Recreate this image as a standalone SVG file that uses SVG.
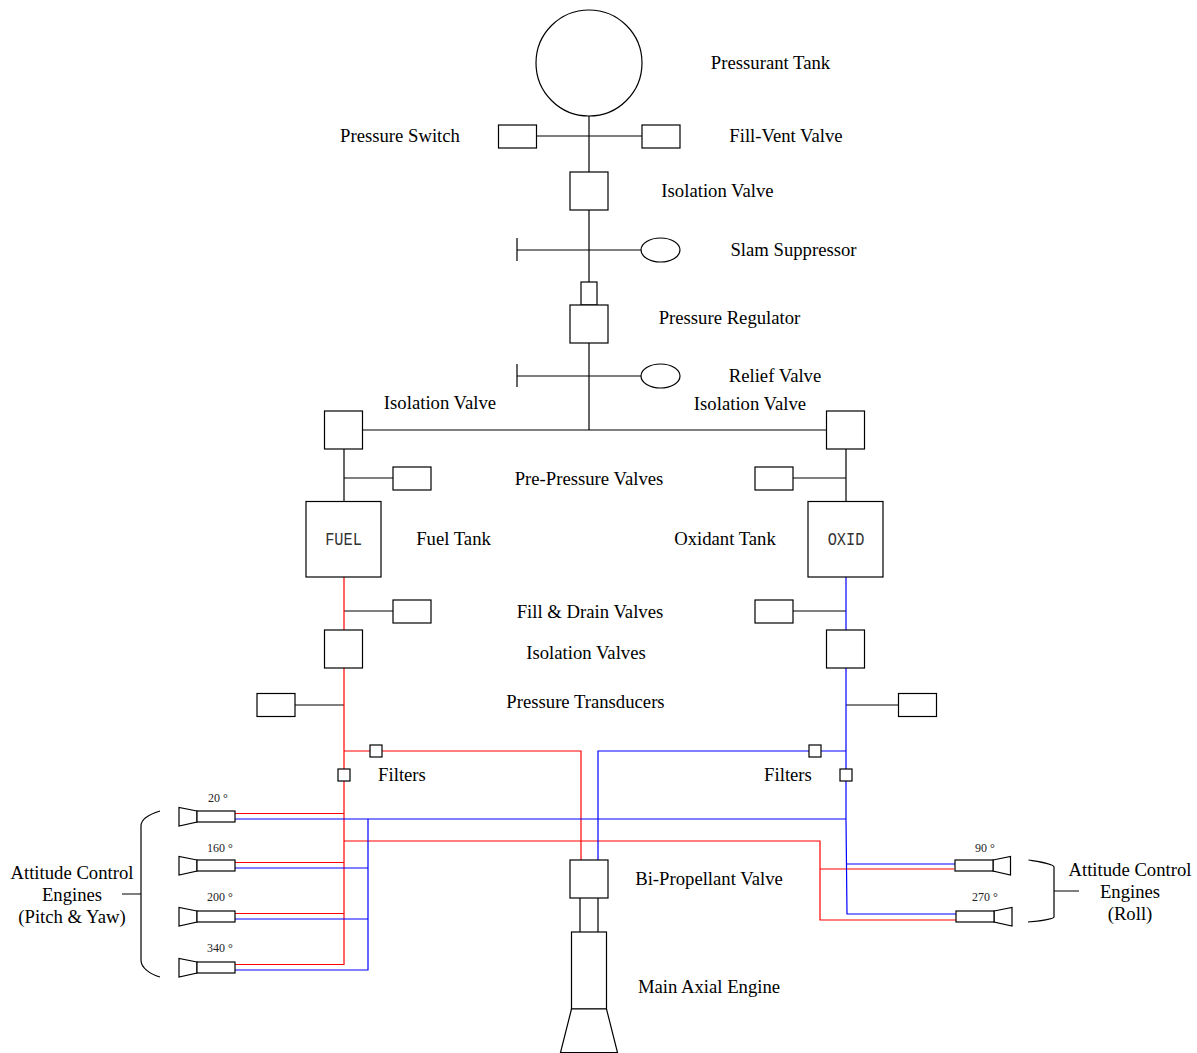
<svg xmlns="http://www.w3.org/2000/svg" width="1197" height="1053" viewBox="0 0 1197 1053">
<style>
rect,circle,ellipse,.s{fill:#fff;stroke:#000;stroke-width:1.2}
.l{fill:none;stroke:#000;stroke-width:1.2}
.r{fill:none;stroke:#f00;stroke-width:1.2}
.b{fill:none;stroke:#00f;stroke-width:1.2}
text{font-family:"Liberation Serif","Times New Roman",serif;font-size:18.7px;fill:#000;text-anchor:middle}
.a{font-size:12px;fill:#222}
.m{font-family:"Liberation Mono",monospace;font-size:18px;fill:#333}
</style>
<g id="connectors">
<path class="l" d="M589 116V282M536 136H642M517 238V261M517 250H642M589 343V430M517 364V387M517 376H642M362 430H827M344 448V501M344 478H393M846 448V501M793 478H846M344 611H393M793 611H846M295 705H344M846 705H898M580 898V932M598 898V932M122 894H141M1054 891H1079"/>
<path class="r" d="M344 577V630M344 667V964.500H235M344 751H581V860M344 841H820V920H956M820 869H954M235 813.500H344M235 862.500H344M235 913.500H344"/>
<path class="b" d="M846 577V630M846 667V819H235M846 819L847 914H956M846 864H955M846 751H598V860M235 868H368M235 919H368M235 970H368V819"/>
<path class="l" d="M160 811C150 814 141 819 141 826V960C141 968 150 974 160 977"/>
<path class="l" d="M1028.500 860C1040 862 1054 864 1054 867V917C1054 919 1040 921 1028 922"/>
</g>
<g id="pressurant-tank"><circle cx="589" cy="63" r="53"/><text x="770.500" y="69">Pressurant Tank</text></g>
<g id="pressure-switch"><rect x="498.500" y="125" width="38" height="23"/><text x="400" y="142">Pressure Switch</text></g>
<g id="fill-vent-valve"><rect x="642" y="125" width="38" height="23"/><text x="786" y="142">Fill-Vent Valve</text></g>
<g id="isolation-valve-top"><rect x="570" y="172" width="38" height="38"/><text x="717.500" y="197">Isolation Valve</text></g>
<g id="slam-suppressor"><ellipse cx="660.500" cy="250" rx="19.500" ry="12"/><text x="793.500" y="256">Slam Suppressor</text></g>
<g id="pressure-regulator"><rect x="581" y="282" width="16" height="23"/><rect x="570" y="305" width="38" height="38"/><text x="729.500" y="324">Pressure Regulator</text></g>
<g id="relief-valve"><ellipse cx="660.500" cy="376" rx="19.500" ry="12"/><text x="775" y="382">Relief Valve</text></g>
<g id="isolation-valve-left"><rect x="324.500" y="411" width="38" height="38"/><text x="440" y="409">Isolation Valve</text></g>
<g id="isolation-valve-right"><rect x="826.500" y="411" width="38" height="38"/><text x="750" y="410">Isolation Valve</text></g>
<g id="pre-pressure-valves"><rect x="393" y="467" width="38" height="23"/><rect x="755" y="467" width="38" height="23"/><text x="589" y="485">Pre-Pressure Valves</text></g>
<g id="fuel-tank"><rect x="306" y="501.500" width="75" height="75.500"/><text class="m" transform="translate(343.500 545) scale(.85 1)">FUEL</text><text x="453.500" y="545">Fuel Tank</text></g>
<g id="oxidant-tank"><rect x="808" y="501.500" width="75" height="75.500"/><text class="m" transform="translate(846 545) scale(.85 1)">OXID</text><text x="725" y="545">Oxidant Tank</text></g>
<g id="fill-drain-valves"><rect x="393" y="600" width="38" height="23"/><rect x="755" y="600" width="38" height="23"/><text x="590" y="618">Fill &amp; Drain Valves</text></g>
<g id="isolation-valves"><rect x="324.500" y="630" width="38" height="38"/><rect x="826.500" y="630" width="38" height="38"/><text x="586" y="659">Isolation Valves</text></g>
<g id="pressure-transducers"><rect x="257" y="693.500" width="38" height="23"/><rect x="898.500" y="693.500" width="38" height="23"/><text x="585.500" y="708">Pressure Transducers</text></g>
<g id="filters"><rect x="370" y="745" width="12" height="12"/><rect x="338" y="769" width="12" height="12"/><rect x="809" y="745" width="12" height="12"/><rect x="840" y="769" width="12" height="12"/><text x="402" y="781">Filters</text><text x="788" y="781">Filters</text></g>
<g id="engine-20"><path class="s" d="M197 811L179 807.500V826L197 822Z"/><rect x="197" y="811" width="38" height="11"/><text class="a" x="218" y="802">20 °</text></g>
<g id="engine-160"><path class="s" d="M197 860L179 856.500V875L197 871Z"/><rect x="197" y="860" width="38" height="11"/><text class="a" x="220" y="852">160 °</text></g>
<g id="engine-200"><path class="s" d="M197 911L179 907.500V926L197 922Z"/><rect x="197" y="911" width="38" height="11"/><text class="a" x="220" y="901">200 °</text></g>
<g id="engine-340"><path class="s" d="M197 962L179 958.500V977L197 973Z"/><rect x="197" y="962" width="38" height="11"/><text class="a" x="220" y="952">340 °</text></g>
<g id="engine-90"><path class="s" d="M993 860L1010.500 856.500V875L993 871Z"/><rect x="955" y="860" width="38" height="11"/><text class="a" x="985" y="852">90 °</text></g>
<g id="engine-270"><path class="s" d="M994 911L1012 907.500V926L994 922Z"/><rect x="956" y="911" width="38" height="11"/><text class="a" x="985" y="901">270 °</text></g>
<g id="attitude-pitch-yaw"><text x="72" y="879">Attitude Control</text><text x="72" y="901">Engines</text><text x="72" y="923">(Pitch &amp; Yaw)</text></g>
<g id="attitude-roll"><text x="1130" y="876">Attitude Control</text><text x="1130" y="898">Engines</text><text x="1130" y="920">(Roll)</text></g>
<g id="bi-propellant-valve"><rect x="570" y="860" width="38" height="38"/><text x="709" y="885">Bi-Propellant Valve</text></g>
<g id="main-axial-engine"><rect x="571.500" y="932" width="35" height="77"/><path class="s" d="M571.500 1009L560.500 1052.500H617.500L606.500 1009Z"/><text x="709" y="993">Main Axial Engine</text></g>
</svg>
